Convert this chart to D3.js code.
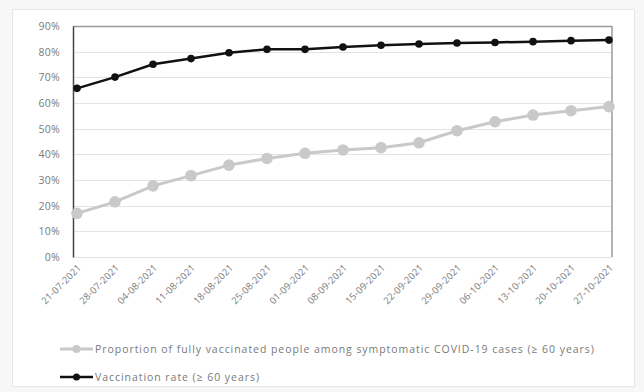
<!DOCTYPE html>
<html>
<head>
<meta charset="utf-8">
<script src="https://cdn.jsdelivr.net/npm/d3@7"></script>
<style>
  html, body { margin: 0; padding: 0; background: #f7f7f7; }
  svg { display: block; }
  text { font-family: "Open Sans", "Liberation Sans", sans-serif; }
</style>
</head>
<body>
<svg id="chart" width="644" height="392"></svg>
<script>
// Weekly dates (ISO week start)
const dates = ["21-07-2021","28-07-2021","04-08-2021","11-08-2021","18-08-2021",
  "25-08-2021","01-09-2021","08-09-2021","15-09-2021","22-09-2021",
  "29-09-2021","06-10-2021","13-10-2021","20-10-2021","27-10-2021"];

// Proportion of fully vaccinated people among symptomatic COVID-19 cases (≥ 60 years), %
const proportionVaccinated = [17.0, 21.5, 27.7, 31.7, 35.8, 38.4, 40.4, 41.7, 42.6, 44.5,
  49.2, 52.7, 55.3, 57.0, 58.6];

// Vaccination rate (≥ 60 years), %
const vaccinationRate = [65.7, 70.1, 75.1, 77.3, 79.6, 80.9, 80.9, 81.8, 82.5, 83.0,
  83.4, 83.6, 83.9, 84.3, 84.5];

const yTicks = [0, 10, 20, 30, 40, 50, 60, 70, 80, 90];

const legendLabels = [
  "Proportion of fully vaccinated people among symptomatic COVID-19 cases (≥ 60 years)",
  "Vaccination rate (≥ 60 years)"
];

const svg = d3.select("#chart");

// chart frame
svg.append("rect")
  .attr("x", 12.5).attr("y", 9.5).attr("width", 622).attr("height", 377)
  .attr("fill", "#ffffff").attr("stroke", "#e6e6e6");

const plot = { left: 73, right: 612, top: 26, bottom: 257 };

const x = d3.scalePoint().domain(dates).range([77, 609]);
const y = d3.scaleLinear().domain([0, 90]).range([plot.bottom, plot.top]);

// gridlines
svg.append("g").selectAll("line").data(yTicks).join("line")
  .attr("x1", plot.left).attr("x2", plot.right)
  .attr("y1", d => Math.round(y(d)) + 0.5).attr("y2", d => Math.round(y(d)) + 0.5)
  .attr("stroke", d => d === 90 ? "#9a9a9a" : "#e3e3e3")
  .attr("stroke-width", d => d === 90 ? 1.5 : 1);

// right border of the plot area
svg.append("line")
  .attr("x1", plot.right).attr("x2", plot.right)
  .attr("y1", plot.top).attr("y2", plot.bottom)
  .attr("stroke", "#9a9a9a").attr("stroke-width", 1.5);

// y axis
const yAxis = d3.axisLeft(y).tickValues(yTicks).tickFormat(d => d + "%").tickSize(0).tickPadding(13);
const gy = svg.append("g").attr("transform", `translate(${plot.left},0)`).call(yAxis);
gy.select(".domain").attr("stroke", "#444").attr("stroke-width", 1.5);
gy.selectAll("text").attr("fill", "#7a7a7a").attr("font-size", 10.5).attr("letter-spacing", "0.3px");

// x axis labels
const xAxis = d3.axisBottom(x).tickSize(0).tickPadding(0);
const gx = svg.append("g").attr("transform", `translate(0,${plot.bottom})`).call(xAxis);
gx.select(".domain").remove();
gx.selectAll("text")
  .attr("fill", "#7a7a7a").attr("font-size", 9.5).attr("letter-spacing", "0.2px")
  .attr("text-anchor", "end")
  .attr("dy", "0.35em")
  .attr("transform", "translate(2,9) rotate(-45)");

// lines
const line = d3.line().x((d, i) => x(dates[i])).y(d => y(d));

svg.append("path").datum(proportionVaccinated)
  .attr("d", line).attr("fill", "none")
  .attr("stroke", "#c9c9c9").attr("stroke-width", 3);
svg.append("g").selectAll("circle").data(proportionVaccinated).join("circle")
  .attr("cx", (d, i) => x(dates[i])).attr("cy", d => y(d)).attr("r", 5.8)
  .attr("fill", "#c9c9c9");

svg.append("path").datum(vaccinationRate)
  .attr("d", line).attr("fill", "none")
  .attr("stroke", "#111").attr("stroke-width", 2.5);
svg.append("g").selectAll("circle").data(vaccinationRate).join("circle")
  .attr("cx", (d, i) => x(dates[i])).attr("cy", d => y(d)).attr("r", 3.8)
  .attr("fill", "#111");

// legend
const legend = svg.append("g");
const legendRows = [
  { label: legendLabels[0], color: "#c9c9c9", w: 3, r: 4, y: 349 },
  { label: legendLabels[1], color: "#111", w: 2.5, r: 3.5, y: 377 }
];
legendRows.forEach(row => {
  legend.append("line").attr("x1", 60).attr("x2", 93).attr("y1", row.y).attr("y2", row.y)
    .attr("stroke", row.color).attr("stroke-width", row.w);
  legend.append("circle").attr("cx", 76.5).attr("cy", row.y).attr("r", row.r).attr("fill", row.color);
  legend.append("text").attr("x", 95).attr("y", row.y).attr("dy", "0.35em")
    .attr("fill", "#7a7a7a").attr("font-size", 10.5).attr("letter-spacing", "0.95px")
    .text(row.label);
});
</script>
</body>
</html>
